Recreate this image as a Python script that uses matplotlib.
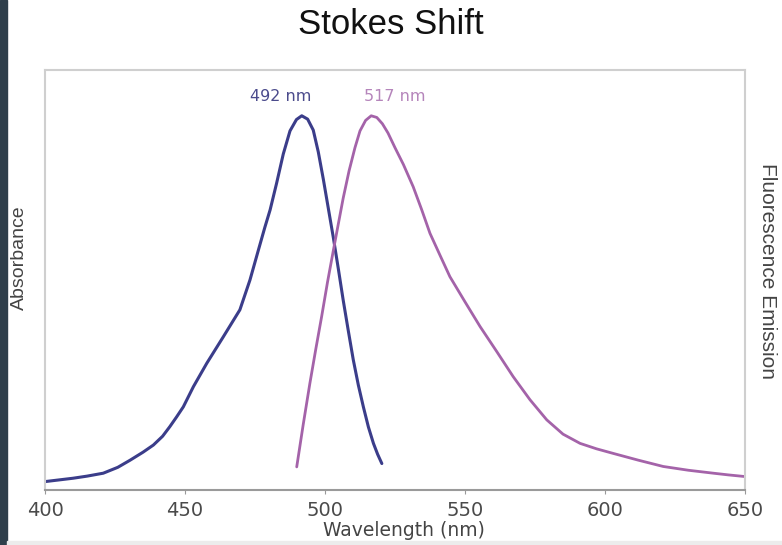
import numpy as np
import matplotlib
matplotlib.use("Agg")
import matplotlib.pyplot as plt
from matplotlib.patches import Rectangle

# absorbance curve (wavelength nm, relative)
abs_wl = [400, 405, 410, 415, 420.8, 426, 430.4, 435, 438.7, 442, 444.6, 447,
          449.4, 453.0, 457.8, 463.7, 469.6, 473.2, 476.2, 478.5, 480.4, 482.7,
          485.1, 487.5, 489.8, 491.7, 493.8, 495.8, 497.6, 499.4, 501.2, 503.0,
          504.8, 506.5, 508.3, 510.1, 511.9, 513.7, 515.5, 517.3, 518.8, 520.3]
abs_val = [0.020, 0.024, 0.028, 0.033, 0.040, 0.054, 0.071, 0.090, 0.107, 0.128,
           0.151, 0.174, 0.198, 0.246, 0.302, 0.365, 0.429, 0.500, 0.571, 0.625,
           0.667, 0.730, 0.800, 0.855, 0.882, 0.891, 0.883, 0.857, 0.805, 0.740,
           0.670, 0.600, 0.525, 0.452, 0.380, 0.310, 0.250, 0.198, 0.150, 0.111,
           0.085, 0.063]

# emission curve
em_wl = [489.9, 492.2, 494.6, 496.7, 498.8, 500.9, 503.0, 504.8, 506.5, 508.6,
         510.7, 512.5, 514.5, 516.5, 518.5, 520.5, 522.5, 525.0, 528.0, 531.5,
         534.5, 537.5, 541.0, 544.6, 550.0, 555.4, 561.3, 567.2, 573.2, 579.2,
         585.0, 591.1, 597.0, 603.0, 611.9, 620.8, 629.8, 638.7, 644.0, 650]
em_val = [0.055, 0.155, 0.254, 0.335, 0.413, 0.495, 0.571, 0.635, 0.695, 0.760,
          0.815, 0.855, 0.880, 0.891, 0.887, 0.872, 0.850, 0.815, 0.775, 0.722,
          0.668, 0.611, 0.560, 0.508, 0.448, 0.389, 0.330, 0.270, 0.215, 0.167,
          0.133, 0.111, 0.098, 0.087, 0.071, 0.056, 0.047, 0.040, 0.036, 0.032]

peak_labels = ["492 nm", "517 nm"]
peak_pos = [484.0, 525.0]
x_ticks = [400, 450, 500, 550, 600, 650]

blue = "#3b3d8a"
magenta = "#a463a9"

fig = plt.figure(figsize=(7.82, 5.45), dpi=100)

# dark strip on the left and light strip at bottom
fig.patches.append(Rectangle((0, 0), 7 / 782, 1, transform=fig.transFigure,
                             color="#2f3f4b", zorder=0))
fig.patches.append(Rectangle((7 / 782, 0), 1, 4 / 545, transform=fig.transFigure,
                             color="#ececec", zorder=0))

ax = fig.add_axes([45 / 782, 55 / 545, 700 / 782, 420 / 545])

ax.plot(abs_wl, abs_val, color=blue, linewidth=2.2, solid_capstyle="round",
        solid_joinstyle="round")
ax.plot(em_wl, em_val, color=magenta, linewidth=2.0, solid_capstyle="round",
        solid_joinstyle="round")

ax.text(peak_pos[0], 0.936, peak_labels[0], color="#4b4b8c", fontsize=11.5,
        ha="center", va="center", family="DejaVu Sans")
ax.text(peak_pos[1], 0.936, peak_labels[1], color="#b585bb", fontsize=11.5,
        ha="center", va="center", family="DejaVu Sans")

ax.set_xlim(400, 650)
ax.set_ylim(0, 1)
ax.set_xticks(x_ticks)
ax.set_yticks([])
ax.tick_params(axis="x", length=3, color="#999999", labelsize=14,
               labelcolor="#4a4a4a", pad=5)

for side in ["left", "right", "top"]:
    ax.spines[side].set_color("#cfcfcf")
    ax.spines[side].set_linewidth(1.5)
ax.spines["bottom"].set_color("#9a9a9a")
ax.spines["bottom"].set_linewidth(1.5)

fig.text(404 / 782, 1 - 530 / 545, "Wavelength (nm)", ha="center", va="center",
         fontsize=13.5, color="#444444", family="DejaVu Sans")

fig.text(0.5, 1 - 24 / 545, "Stokes Shift", ha="center", va="center",
         fontsize=25, family="Liberation Sans", color="#111111")
fig.text(19 / 782, 1 - 258 / 545, "Absorbance", rotation=90, ha="center",
         va="center", fontsize=14, family="Liberation Sans", color="#444444")
fig.text(768 / 782, 1 - 271 / 545, "Fluorescence Emission", rotation=270,
         ha="center", va="center", fontsize=15, family="Liberation Sans",
         color="#444444")

fig.savefig("out.png", dpi=100)
